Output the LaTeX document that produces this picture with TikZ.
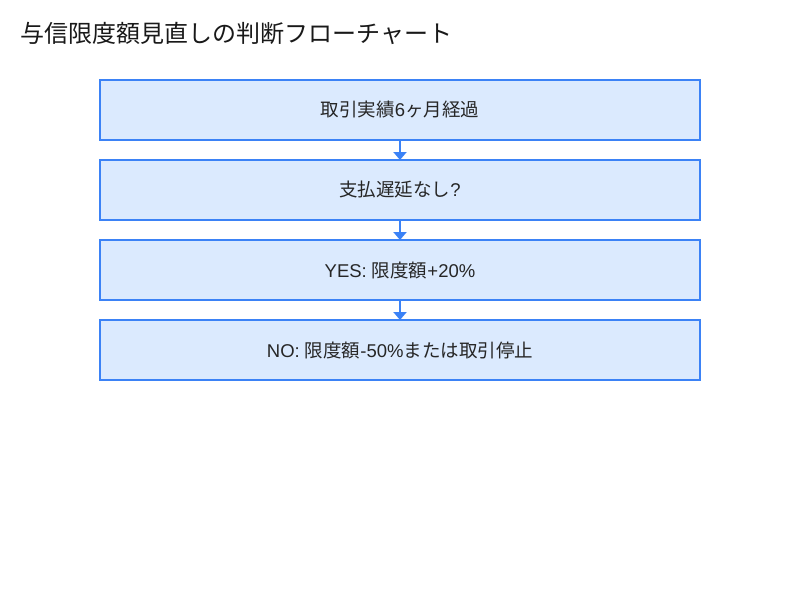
\documentclass[tikz,border=0pt]{standalone}
\usepackage{fontspec}
\setmainfont{Noto Sans CJK JP}
\newfontfamily\lat{Liberation Sans}
\usetikzlibrary{arrows.meta}
\definecolor{boxfill}{HTML}{DBEAFE}
\definecolor{boxline}{HTML}{3B82F6}
\tikzset{
  stepbox/.style={draw=boxline, fill=boxfill, line width=2pt, minimum width=600pt, minimum height=60pt, inner sep=0pt, font=\fontsize{18.5pt}{22pt}\selectfont, text=black!85},
  flow/.style={draw=boxline, line width=2pt, -{Triangle[width=13pt,length=8pt]}, shorten >=-1pt},
}
\begin{document}
\begin{tikzpicture}[x=1pt,y=-1pt]
\useasboundingbox (0,0) rectangle (800,600);
\fill[white] (0,0) rectangle (800,600);
\node[anchor=west, font=\fontsize{24pt}{28pt}\selectfont, text=black!90] (title) at (17,33) {与信限度額見直しの判断フローチャート};
\node[stepbox] (a) at (400,110) {取引実績{\lat 6}ヶ月経過};
\node[stepbox] (b) at (400,190) {支払遅延なし{\lat ?}};
\node[stepbox] (c) at (400,270) {{\lat YES: }限度額{\lat +20\%}};
\node[stepbox] (d) at (400,350) {{\lat NO: }限度額{\lat -50\%}または取引停止};
\draw[flow] (a) -- (b);
\draw[flow] (b) -- (c);
\draw[flow] (c) -- (d);
\end{tikzpicture}
\end{document}
